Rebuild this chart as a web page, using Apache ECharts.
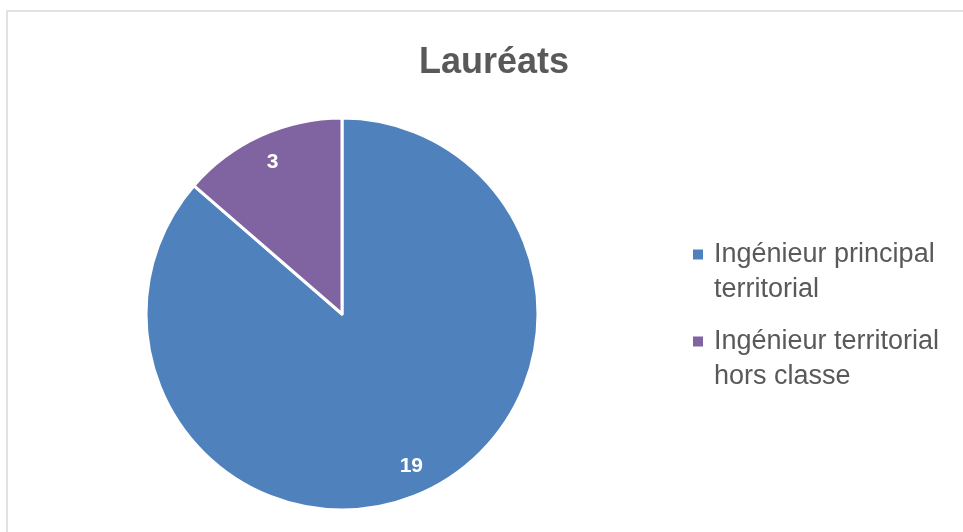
<!DOCTYPE html>
<html>
<head>
	<meta charset="utf-8">
	<script src="https://cdn.jsdelivr.net/npm/echarts@6/dist/echarts.min.js"></script>
	<style>
		body { margin: 0; background: #fff; }
	</style>
</head>
<body>
	<div id="main" style="width: 963px; height: 532px"></div>
	<script type="text/javascript">
		// données du graphique
		var categories = ['Ingénieur principal territorial', 'Ingénieur territorial hors classe'];
		var legendLabels = ['Ingénieur principal\nterritorial', 'Ingénieur territorial\nhors classe'];
		var values = [19, 3];
		var colors = ['#4F81BD', '#8064A2'];

		var myChart = echarts.init(document.getElementById('main'));

		var pieData = categories.map(function (c, i) {
			return { name: c, value: values[i], itemStyle: { color: colors[i] } };
		});
		// série transparente pour placer les étiquettes près du bord
		var labelData = categories.map(function (c, i) {
			return { name: c, value: values[i] };
		});

		var option = {
			backgroundColor: '#fff',
			animation: false,
			title: {
				text: 'Lauréats',
				left: 489, top: 40, textAlign: 'center',
				textStyle: { fontFamily: 'Liberation Sans', fontSize: 36, fontWeight: 'bold', color: '#595959' }
			},
			graphic: [{
				type: 'rect', z: -1, silent: true,
				shape: { x: 7, y: 11, width: 1000, height: 600 },
				style: { fill: 'none', stroke: '#d9d9d9', lineWidth: 1.5 }
			}],
			legend: {
				orient: 'vertical',
				left: 693, top: 237, padding: 0,
				data: categories,
				// carré en haut à gauche d'une boîte : aligné sur la première ligne
				icon: 'path://M0,0h10v10h-10z M0,45h16',
				itemWidth: 16, itemHeight: 45,
				itemGap: 17,
				itemStyle: { borderWidth: 0 },
				selectedMode: false,
				formatter: function (name) { return legendLabels[categories.indexOf(name)]; },
				textStyle: {
					fontFamily: 'Liberation Sans', fontSize: 27, color: '#595959', lineHeight: 35
				}
			},
			series: [{
				name: 'Lauréats',
				type: 'pie',
				center: [342, 314],
				radius: [0, 196],
				startAngle: 90,
				clockwise: true,
				silent: true,
				itemStyle: { borderColor: '#fff', borderWidth: 3 },
				label: { show: false },
				labelLine: { show: false },
				data: pieData
			}, {
				name: 'etiquettes',
				type: 'pie',
				center: [342, 314],
				radius: [132, 196],
				startAngle: 90,
				clockwise: true,
				silent: true,
				itemStyle: { color: 'rgba(0,0,0,0)', borderWidth: 0 },
				label: {
					show: true, position: 'inside', formatter: '{c}',
					fontFamily: 'Liberation Sans', fontSize: 21, fontWeight: 'bold', color: '#fff'
				},
				labelLine: { show: false },
				data: labelData
			}]
		};
		myChart.setOption(option);
	</script>
</body>
</html>
